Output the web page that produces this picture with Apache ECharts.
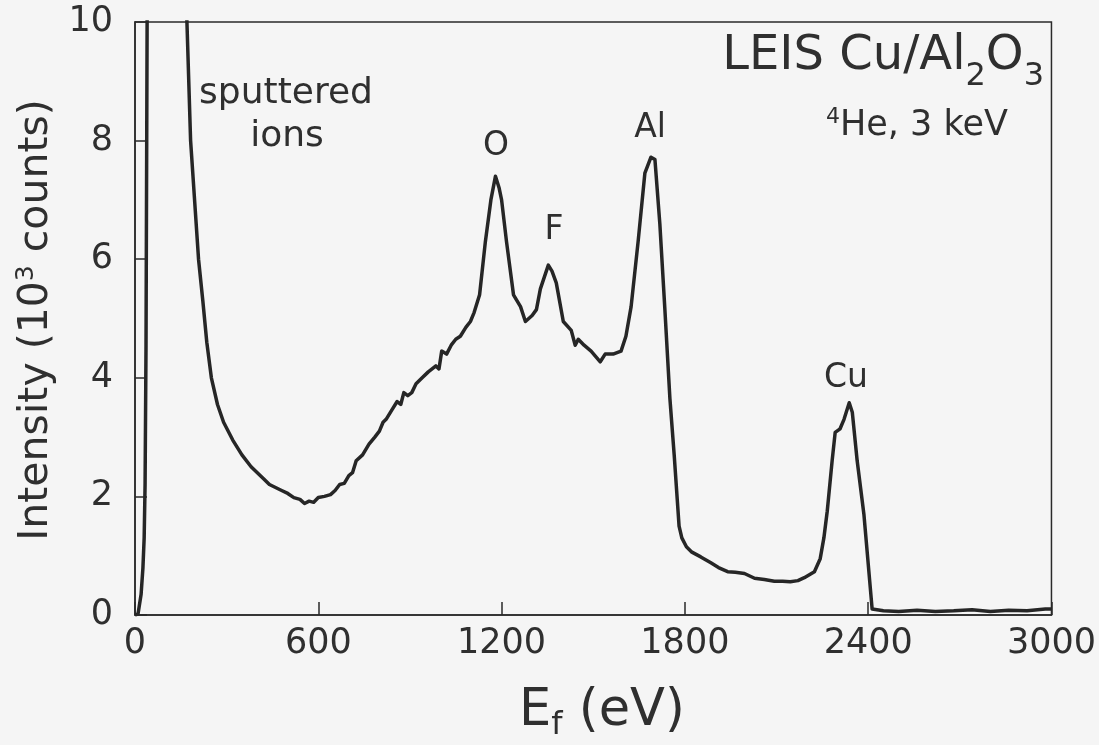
<!DOCTYPE html>
<html>
<head>
<meta charset="utf-8">
<script src="https://cdn.jsdelivr.net/npm/echarts@6/dist/echarts.min.js"></script>
<style>
  html, body { margin: 0; padding: 0; background: #f5f5f5; }
  #chart { width: 1099px; height: 745px; }
</style>
</head>
<body>
<div id="chart"></div>
<script>
// Final energy E_f (eV)
const energy = [
  0, 10, 20, 26, 30, 33, 36, 38, 40, 45, 60, 100, 140, 160,
  170, 182, 195, 208, 222, 235, 250, 270, 290, 320, 350, 380, 420, 440, 460, 480,
  500, 520, 540, 555, 570, 585, 600, 620, 640, 655, 670, 685, 700, 712, 724, 745,
  766, 785, 800, 812, 822, 840, 858, 870, 880, 893, 906, 920, 940, 960, 985, 995,
  1004, 1020, 1035, 1050, 1065, 1083, 1098, 1110, 1128, 1147, 1165, 1180, 1192, 1200,
  1216, 1239, 1262, 1278, 1300, 1314, 1327, 1353, 1365, 1379, 1402, 1428, 1441, 1451,
  1470, 1493, 1523, 1539, 1565, 1591, 1607, 1624, 1647, 1669, 1689, 1702, 1718, 1734,
  1751, 1765, 1775, 1781, 1790, 1805, 1823, 1852, 1885, 1910, 1940, 1965, 1995, 2028,
  2060, 2093, 2120, 2145, 2170, 2191, 2224, 2243, 2255, 2266, 2282, 2292, 2308, 2321,
  2338, 2348, 2364, 2386, 2413, 2450, 2500, 2560, 2620, 2680, 2740, 2800, 2860, 2920, 2980, 3000
];
// Intensity (10^3 counts)
const intensity = [
  0, 0.02, 0.35, 0.8, 1.3, 2.2, 4.5, 7.5, 10.5, 12, 13, 13.5, 13, 11.5,
  10, 8, 7, 6, 5.3, 4.6, 4.0, 3.55, 3.25, 2.95, 2.7, 2.5, 2.3, 2.2, 2.15, 2.1,
  2.05, 1.98, 1.95, 1.88, 1.92, 1.9, 1.98, 2.0, 2.03, 2.1, 2.2, 2.22, 2.35, 2.4, 2.6, 2.7,
  2.88, 3.0, 3.1, 3.25, 3.3, 3.45, 3.6, 3.55, 3.75, 3.7, 3.75, 3.9, 4.0, 4.1, 4.2, 4.15,
  4.45, 4.4, 4.55, 4.65, 4.7, 4.85, 4.95, 5.1, 5.4, 6.3, 7.0, 7.4, 7.2, 7.0,
  6.3, 5.4, 5.2, 4.95, 5.05, 5.15, 5.5, 5.9, 5.8, 5.6, 4.95, 4.8, 4.55, 4.65,
  4.55, 4.45, 4.27, 4.4, 4.4, 4.45, 4.7, 5.2, 6.3, 7.45, 7.72, 7.68, 6.6, 5.2,
  3.65, 2.7, 1.95, 1.5, 1.3, 1.15, 1.06, 0.98, 0.88, 0.8, 0.73, 0.72, 0.7, 0.62,
  0.6, 0.57, 0.57, 0.56, 0.58, 0.63, 0.73, 0.95, 1.3, 1.75, 2.6, 3.08, 3.14, 3.3,
  3.58, 3.42, 2.6, 1.7, 0.1, 0.07, 0.06, 0.08, 0.06, 0.07, 0.09, 0.06, 0.08, 0.07, 0.1, 0.1
];
const xTicks = { min: 0, max: 3000, step: 600 };
const yTicks = { min: 0, max: 10, step: 2 };
const peakLabels = ['O', 'F', 'Al', 'Cu'];

const FONT = 'DejaVu Sans';
const INK = '#2f2f2f';
const chart = echarts.init(document.getElementById('chart'), null, { renderer: 'canvas' });

const seriesData = energy.map((e, i) => [e, intensity[i]]);

chart.setOption({
  backgroundColor: '#f5f5f5',
  animation: false,
  grid: {
    left: 135, top: 22, width: 920, height: 593,
    show: true, borderColor: '#2a2a2a', borderWidth: 1.5, backgroundColor: 'transparent'
  },
  xAxis: {
    type: 'value', min: xTicks.min, max: xTicks.max, interval: xTicks.step,
    axisLine: { show: true, lineStyle: { color: '#2a2a2a', width: 1.5 } },
    axisTick: { show: true, inside: true, length: 13, lineStyle: { color: '#2a2a2a', width: 1.5 } },
    axisLabel: { fontFamily: FONT, fontSize: 35, color: INK, margin: 11, formatter: v => String(v) },
    splitLine: { show: false }
  },
  yAxis: {
    type: 'value', min: yTicks.min, max: yTicks.max, interval: yTicks.step,
    axisLine: { show: true, lineStyle: { color: '#2a2a2a', width: 1.5 } },
    axisTick: { show: true, inside: true, length: 12, lineStyle: { color: '#2a2a2a', width: 1.5 } },
    axisLabel: { fontFamily: FONT, fontSize: 35, color: INK, margin: 22, formatter: v => String(v) },
    splitLine: { show: false }
  },
  series: [{
    type: 'line',
    data: seriesData,
    showSymbol: false,
    clip: true,
    lineStyle: { color: '#262626', width: 3.5, join: 'round' },
    z: 3
  }],
  graphic: [
    {
      type: 'text', x: 36, y: 320, rotation: Math.PI / 2,
      style: {
        text: '{a|Intensity (10}{p|3}{a| counts)}',
        align: 'center', verticalAlign: 'middle', fill: INK,
        rich: {
          a: { fontFamily: FONT, fontSize: 41, color: INK },
          p: { fontFamily: FONT, fontSize: 25, color: INK, padding: [0, 0, 20, 0] }
        }
      }
    },
    {
      type: 'text', x: 602, y: 712,
      style: {
        text: '{a|E}{b|f}{a| (eV)}',
        align: 'center', verticalAlign: 'middle', fill: INK,
        rich: {
          a: { fontFamily: FONT, fontSize: 51, color: INK },
          b: { fontFamily: FONT, fontSize: 32, color: INK, padding: [28, 0, 0, 0] }
        }
      }
    },
    {
      type: 'text', x: 1044, y: 57,
      style: {
        text: '{a|LEIS Cu/Al}{s|2}{a|O}{s|3}',
        align: 'right', verticalAlign: 'middle', fill: INK,
        rich: {
          a: { fontFamily: FONT, fontSize: 48, color: INK },
          s: { fontFamily: FONT, fontSize: 32, color: INK, padding: [40, 0, 0, 0] }
        }
      }
    },
    {
      type: 'text', x: 1008, y: 126,
      style: {
        text: '{p|4}{a|He, 3 keV}',
        align: 'right', verticalAlign: 'middle', fill: INK,
        rich: {
          a: { fontFamily: FONT, fontSize: 35, color: INK },
          p: { fontFamily: FONT, fontSize: 22, color: INK, padding: [0, 0, 18, 0] }
        }
      }
    },
    {
      type: 'text', x: 286, y: 94,
      style: { text: 'sputtered', align: 'center', verticalAlign: 'middle', fontFamily: FONT, fontSize: 36, fill: INK }
    },
    {
      type: 'text', x: 287, y: 137,
      style: { text: 'ions', align: 'center', verticalAlign: 'middle', fontFamily: FONT, fontSize: 36, fill: INK }
    },
    {
      type: 'text', x: 496, y: 146,
      style: { text: peakLabels[0], align: 'center', verticalAlign: 'middle', fontFamily: FONT, fontSize: 33, fill: INK }
    },
    {
      type: 'text', x: 554, y: 230,
      style: { text: peakLabels[1], align: 'center', verticalAlign: 'middle', fontFamily: FONT, fontSize: 33, fill: INK }
    },
    {
      type: 'text', x: 650, y: 128,
      style: { text: peakLabels[2], align: 'center', verticalAlign: 'middle', fontFamily: FONT, fontSize: 33, fill: INK }
    },
    {
      type: 'text', x: 846, y: 378,
      style: { text: peakLabels[3], align: 'center', verticalAlign: 'middle', fontFamily: FONT, fontSize: 33, fill: INK }
    }
  ]
});
</script>
</body>
</html>
